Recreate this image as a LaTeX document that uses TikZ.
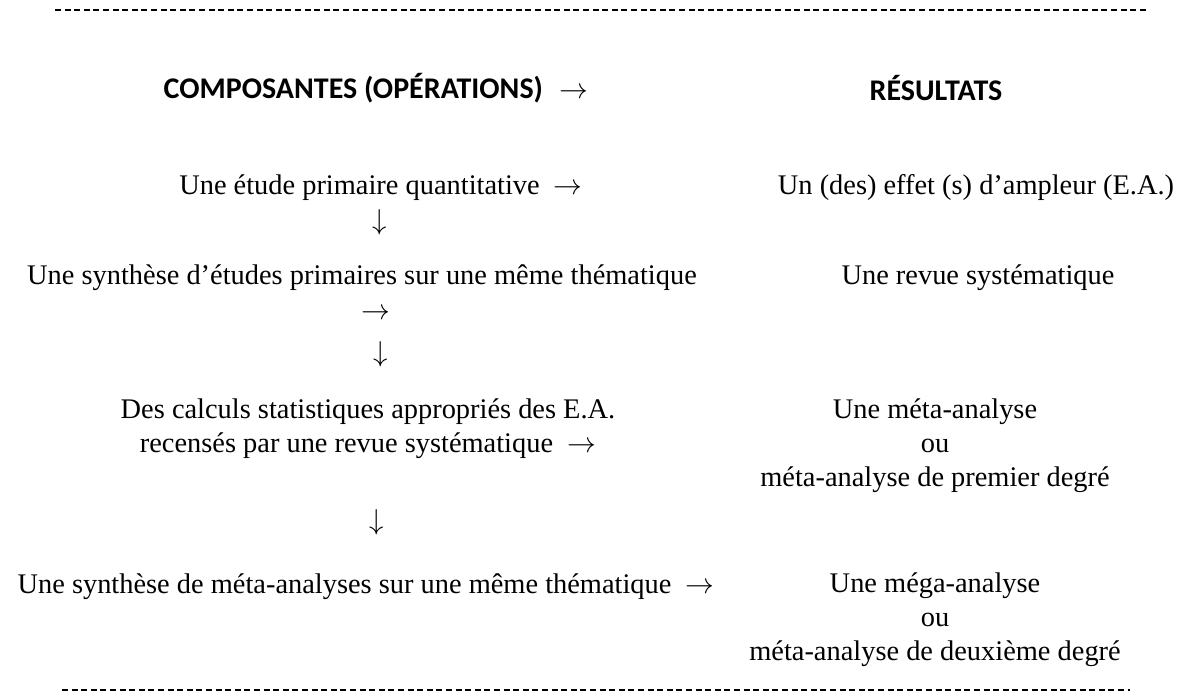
\documentclass[tikz,border=0pt]{standalone}
\usepackage{fontspec}
\setmainfont{Liberation Serif}
\newfontfamily\hdfont{Carlito}
\newcommand{\ra}{$\rightarrow$}
\newcommand{\da}{$\downarrow$}
\begin{document}
\begin{tikzpicture}[x=0.5pt,y=-0.5pt,
  txt/.style={font=\fontsize{14.2}{17}\selectfont, inner sep=0pt, align=center},
  hd/.style={font=\hdfont\bfseries\fontsize{15}{18}\selectfont, inner sep=0pt},
  sepline/.style={line width=0.9pt, dash pattern=on 3pt off 1.8pt}]
\useasboundingbox (0,0) rectangle (1192,694);
% separators
\coordinate (t1) at (55,10);
\coordinate (t2) at (1148,10);
\coordinate (b1) at (62,690);
\coordinate (b2) at (1130,690);
\draw[sepline] (t1) -- (t2);
\draw[sepline] (b1) -- (b2);
% headers
\node[hd] (h1) at (376,88) {COMPOSANTES (OPÉRATIONS)\hspace{0.55em}\ra};
\node[hd] (h2) at (936,88) {RÉSULTATS};
% row 1
\node[txt] (c1) at (381,188) {Une étude primaire quantitative\ \ \ra};
\node[txt] (r1) at (976,188) {Un (des) effet (s) d’ampleur (E.A.)};
\node[txt] (a1) at (380,222) {\da};
% row 2
\node[txt] (c2) at (362,278) {Une synthèse d’études primaires sur une même thématique};
\node[txt] (r2) at (978,278) {Une revue systématique};
\node[txt] (a2) at (376,314) {\ra};
\node[txt] (a3) at (381,354) {\da};
% row 3
\node[txt] (c3) at (368,429) {Des calculs statistiques appropriés des E.A.\\recensés par une revue systématique\ \ \ra};
\node[txt] (r3) at (935,446) {Une méta-analyse\\ou\\méta-analyse de premier degré};
\node[txt] (a4) at (377,522) {\da};
% row 4
\node[txt] (c4) at (366,587) {Une synthèse de méta-analyses sur une même thématique\ \ \ra};
\node[txt] (r4) at (935,620) {Une méga-analyse\\ou\\méta-analyse de deuxième degré};
\end{tikzpicture}
\end{document}
